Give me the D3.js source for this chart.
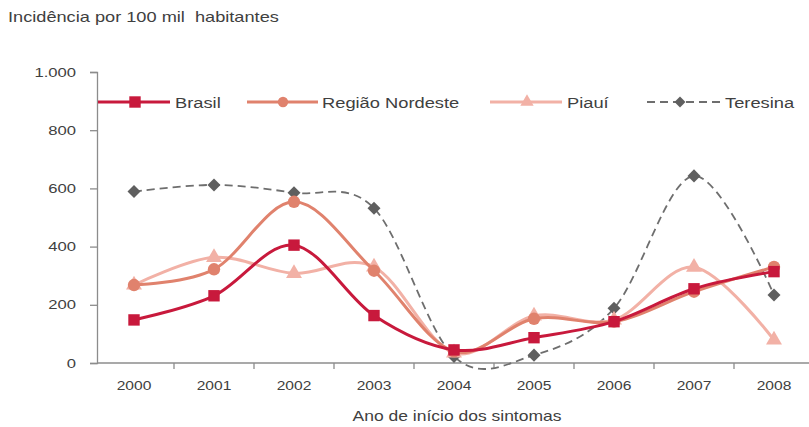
<!DOCTYPE html>
<html><head><meta charset="utf-8">
<script src="https://cdn.jsdelivr.net/npm/d3@7"></script>
<style>body{margin:0;background:#fff;} text{font-family:"Liberation Sans",Arial,sans-serif;fill:#404040;white-space:pre;}</style>
</head><body>
<svg id="c" width="809" height="427"></svg>
<script>
const years = ["2000","2001","2002","2003","2004","2005","2006","2007","2008"];
const brasil   = [148, 231, 405, 163, 45, 87, 142, 255, 314];
const nordeste = [268, 322, 554, 317, 40, 152, 142, 245, 330];
const piaui    = [268, 363, 308, 330, 35, 162, 148, 329, 79];
const teresina = [589, 612, 585, 532, 22, 27, 188, 643, 234];
const yTicks = [0, 200, 400, 600, 800, 1000];
const seriesNames = ["Brasil", "Região Nordeste", "Piauí", "Teresina"];

const svg = d3.select("#c");
const x = d3.scaleBand().domain(years).range([94, 814]);
const y = d3.scaleLinear().domain([0, 1000]).range([363, 72]);
const fmt = d3.formatLocale({decimal: ",", thousands: ".", grouping: [3], currency: ["R$", ""]}).format(",d");
const cx = d => x(d) + x.bandwidth() / 2;

// title
svg.append("text").attr("transform", "translate(8,22) scale(1.3,1)")
  .style("font-size", "14px").attr("xml:space", "preserve").text("Incidência por 100 mil  habitantes");

// y axis
const ya = svg.append("g").attr("transform", "translate(97,0)")
  .call(d3.axisLeft(y).tickValues(yTicks).tickFormat(fmt).tickSizeOuter(0).tickSize(7).tickPadding(0));
ya.select(".domain").attr("stroke", "#8c8c8c").attr("stroke-width", 1.3);
ya.selectAll(".tick line").attr("stroke", "#8c8c8c").attr("stroke-width", 1.3);
ya.selectAll(".tick text").attr("x", 0).attr("transform", "translate(-21,0) scale(1.28,1)")
  .style("font-size", "13px").attr("fill", "#505050");

// x axis
const xa = svg.append("g").attr("transform", "translate(0,363)")
  .call(d3.axisBottom(x).tickSize(0).tickPadding(0));
xa.select(".domain").attr("stroke", "#8c8c8c").attr("stroke-width", 1.3).attr("d", "M97,0H809");
xa.selectAll(".tick text").attr("y", 0).attr("dy", 0)
  .attr("transform", "translate(0,27) scale(1.2,1)").style("font-size", "13px").attr("fill", "#505050");
svg.append("g").selectAll("line").data(years.slice(1)).join("line")
  .attr("x1", d => x(d)).attr("x2", d => x(d)).attr("y1", 363).attr("y2", 369)
  .attr("stroke", "#8c8c8c").attr("stroke-width", 1.3);
svg.append("text").attr("transform", "translate(457,421) scale(1.25,1)").attr("text-anchor", "middle")
  .style("font-size", "14px").text("Ano de início dos sintomas");

const line = d3.line().x((d, i) => cx(years[i])).y(d => y(d)).curve(d3.curveCardinal.tension(0));

const sym = (shape, big) => {
  const k = big ? 1 : 0.7;
  const t = {square: [d3.symbolSquare, 130], circle: [d3.symbolCircle, 120],
             triangle: [d3.symbolTriangle, 110], diamond: [d3.symbolSquare, 85]}[shape];
  return d3.symbol().type(t[0]).size(t[1] * k)();
};
const series = [
  {name: seriesNames[3], data: teresina, color: "#6e6e6e", mk: "#5f5f5f", w: 1.8, dash: "8,5", shape: "diamond"},
  {name: seriesNames[2], data: piaui, color: "#f2b1a6", mk: "#f2b1a6", w: 3, dash: null, shape: "triangle"},
  {name: seriesNames[1], data: nordeste, color: "#e0826d", mk: "#e0826d", w: 3, dash: null, shape: "circle"},
  {name: seriesNames[0], data: brasil, color: "#c8193c", mk: "#c8193c", w: 3, dash: null, shape: "square"}
];

series.forEach(s => {
  svg.append("path").attr("d", line(s.data)).attr("fill", "none")
    .attr("stroke", s.color).attr("stroke-width", s.w).attr("stroke-dasharray", s.dash);
  svg.append("g").selectAll("path").data(s.data).join("path")
    .attr("d", sym(s.shape, true))
    .attr("transform", (d, i) => `translate(${cx(years[i])},${y(d)})` + (s.shape === "diamond" ? " rotate(45)" : ""))
    .attr("fill", s.mk);
});

// legend
const legend = [
  {s: series[3], x1: 98, x2: 170, m: 135, t: 175, big: true},
  {s: series[2], x1: 247, x2: 318, m: 283, t: 322, big: false},
  {s: series[1], x1: 490, x2: 562, m: 527, t: 567, big: false},
  {s: series[0], x1: 647, x2: 720, m: 680, t: 725, big: false}
];
const ly = 102;
legend.forEach(l => {
  const s = l.s;
  svg.append("line").attr("x1", l.x1).attr("x2", l.x2).attr("y1", ly).attr("y2", ly)
    .attr("stroke", s.color).attr("stroke-width", s.w).attr("stroke-dasharray", s.dash);
  svg.append("path").attr("d", sym(s.shape, l.big))
    .attr("transform", `translate(${l.m},${ly})` + (s.shape === "diamond" ? " rotate(45)" : ""))
    .attr("fill", s.mk);
  svg.append("text").attr("transform", `translate(${l.t},${ly + 5.5}) scale(1.22,1)`)
    .style("font-size", "15px").text(s.name);
});
</script>
</body></html>
